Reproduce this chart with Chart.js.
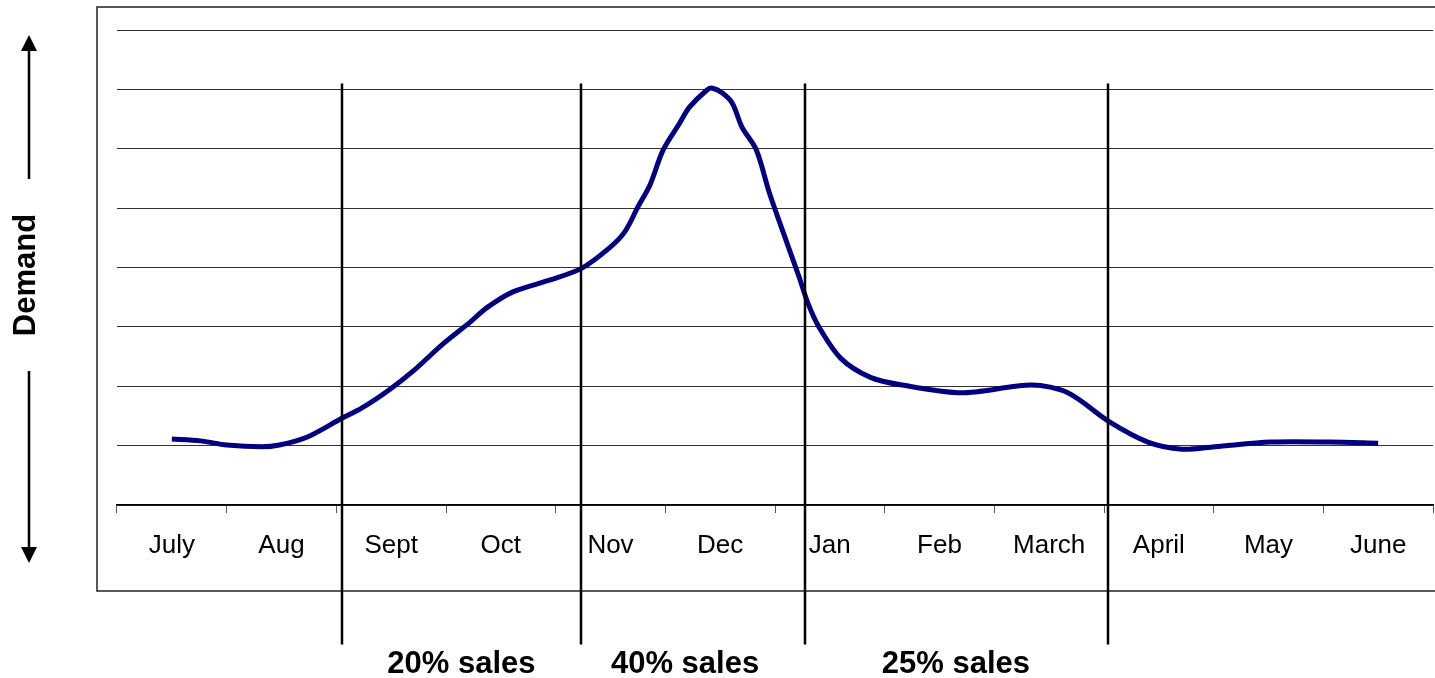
<!DOCTYPE html>
<html>
<head>
<meta charset="utf-8">
<script src="https://cdn.jsdelivr.net/npm/chart.js@4.4.1/dist/chart.umd.min.js"></script>
<style>
    html, body { margin: 0; padding: 0; background: #fff; }
    #wrap { width: 1435px; height: 678px; position: relative; }
</style>
</head>
<body>
<div id="wrap"><canvas id="chart"></canvas></div>
<script>
// month labels on the category axis
const months = ['July', 'Aug', 'Sept', 'Oct', 'Nov', 'Dec', 'Jan', 'Feb', 'March', 'April', 'May', 'June'];

// demand curve: position in months (0 = July) and demand level (grid units)
const curvePos = [0, 0.26, 0.50, 0.82, 0.98, 1.23, 1.55, 1.73, 1.99, 2.21, 2.47, 2.72, 2.87, 3.11, 3.45, 3.74,
    3.99, 4.13, 4.25, 4.36, 4.48, 4.63, 4.72, 4.88, 4.93, 5.02, 5.11, 5.20, 5.33, 5.45, 5.60, 5.72, 5.80,
    5.90, 6.10, 6.37, 6.66, 7.20, 7.84, 8.17, 8.55, 8.90, 9.21, 9.51, 10.02, 10.56, 11.0];
const curveDemand = [1.11, 1.08, 1.01, 0.98, 1.01, 1.14, 1.46, 1.63, 1.95, 2.27, 2.71, 3.08, 3.32, 3.59, 3.79, 3.99,
    4.33, 4.60, 5.02, 5.39, 5.98, 6.43, 6.70, 6.99, 7.02, 6.94, 6.77, 6.36, 5.98, 5.25, 4.46, 3.84, 3.40,
    3.00, 2.47, 2.15, 2.02, 1.89, 2.02, 1.89, 1.40, 1.06, 0.94, 0.98, 1.06, 1.06, 1.04];

// season dividers and the sales share captions between them
const dividerPos = [1.55, 3.73, 5.77, 8.54];
const shareText = ['20% sales', '40% sales', '25% sales'];
const sharePos = [2.64, 4.68, 7.15];

const FONT = "Arial, 'Liberation Sans', sans-serif";

const extras = {
    id: 'extras',
    afterDraw(chart) {
        const ctx = chart.ctx;
        const area = chart.chartArea;
        const xs = chart.scales.xd;
        const ys = chart.scales.y;
        ctx.save();

        // outer frame (right side runs off the page)
        ctx.strokeStyle = '#222';
        ctx.lineWidth = 1.5;
        ctx.strokeRect(area.left - 20, area.top - 23, area.right - area.left + 30, area.bottom - area.top + 109);

        // dividers, running past the frame
        ctx.strokeStyle = '#000';
        ctx.lineWidth = 2.5;
        const top = ys.getPixelForValue(7.1);
        const bottom = ys.getPixelForValue(-2.35);
        dividerPos.forEach(p => {
            const x = Math.round(xs.getPixelForValue(p));
            ctx.beginPath();
            ctx.moveTo(x, top);
            ctx.lineTo(x, bottom);
            ctx.stroke();
        });

        // captions
        ctx.fillStyle = '#000';
        ctx.font = 'bold 31px ' + FONT;
        ctx.textAlign = 'center';
        ctx.textBaseline = 'middle';
        shareText.forEach((t, i) => {
            ctx.fillText(t, xs.getPixelForValue(sharePos[i]), 664);
        });

        // Demand axis title with arrows
        const ax = 29;
        ctx.save();
        ctx.translate(26, 275);
        ctx.rotate(-Math.PI / 2);
        ctx.font = 'bold 31px ' + FONT;
        ctx.fillText('Demand', 0, 0);
        ctx.restore();

        ctx.lineWidth = 2.5;
        ctx.beginPath();
        ctx.moveTo(ax, 48); ctx.lineTo(ax, 179);
        ctx.moveTo(ax, 371); ctx.lineTo(ax, 550);
        ctx.stroke();
        ctx.beginPath();
        ctx.moveTo(ax, 35); ctx.lineTo(ax - 8, 51); ctx.lineTo(ax + 8, 51); ctx.closePath();
        ctx.moveTo(ax, 563); ctx.lineTo(ax - 8, 547); ctx.lineTo(ax + 8, 547); ctx.closePath();
        ctx.fill();

        ctx.restore();
    }
};

new Chart(document.getElementById('chart'), {
    type: 'line',
    data: {
        datasets: [{
            data: curvePos.map((p, i) => ({ x: p, y: curveDemand[i] })),
            xAxisID: 'xd',
            borderColor: '#000080',
            borderWidth: 5,
            pointRadius: 0,
            tension: 0.3,
            fill: false
        }]
    },
    options: {
        responsive: true,
        maintainAspectRatio: false,
        animation: false,
        layout: { padding: { left: 117, top: 30, right: 2, bottom: 0 } },
        plugins: {
            legend: { display: false },
            tooltip: { enabled: false }
        },
        scales: {
            x: {
                type: 'category',
                labels: months,
                offset: true,
                grid: { offset: true, drawOnChartArea: false, tickLength: 8, color: '#555', lineWidth: 1 },
                border: { color: '#000', width: 1.5 },
                ticks: { color: '#000', font: { family: FONT, size: 26 }, padding: 17, maxRotation: 0, autoSkip: false },
                afterFit(s) { s.height = 173; }
            },
            xd: {
                type: 'linear',
                min: -0.5,
                max: 11.5,
                display: false
            },
            y: {
                min: 0,
                max: 8,
                ticks: { display: false, stepSize: 1 },
                grid: { color: '#333', lineWidth: 1, drawTicks: false },
                border: { display: false },
                afterFit(s) { s.width = 0; }
            }
        }
    },
    plugins: [extras]
});
</script>
</body>
</html>
